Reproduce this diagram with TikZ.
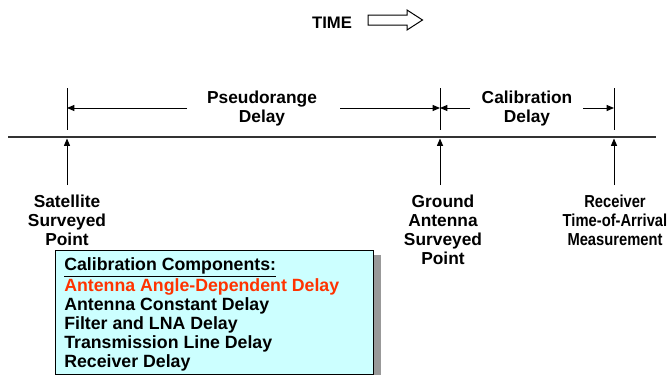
\documentclass[tikz,border=0pt]{standalone}
\usepackage{fontspec}
\setmainfont{Liberation Sans}
\newcommand{\squeeze}[1]{\scalebox{0.85}[1]{#1}}
\usetikzlibrary{arrows.meta}
\definecolor{boxcyan}{RGB}{204,255,255}
\definecolor{angred}{RGB}{255,51,0}
\definecolor{shadowgray}{RGB}{153,153,153}
\begin{document}
\begin{tikzpicture}[x=0.75pt,y=-0.75pt,
  lbl/.style={font=\bfseries\fontsize{13}{14.25}\selectfont, align=center, inner sep=0pt},
  boxtext/.style={font=\bfseries\fontsize{13.3}{14.25}\selectfont, align=left, inner sep=0pt},
  tick/.style={draw=black, line width=0.75pt},
  dim/.style={-{Triangle[length=5.5pt,width=4.5pt]}, line width=0.75pt}]
\useasboundingbox (0,0) rectangle (670,375);
% time arrow
\node [font=\bfseries\fontsize{12.5}{14}\selectfont, anchor=north, inner sep=0pt] (time) at (332,17) {TIME};
\draw [line width=0.75pt] (368,15) -- (407,15) -- (407,10) -- (422.5,20) -- (407,30) -- (407,25) -- (368,25) -- cycle;
% timeline
\coordinate (lineL) at (8,136.5);
\coordinate (lineR) at (656,136.5);
\draw [draw=black!80, line width=1.5pt] (lineL) -- (lineR);
% ticks above line
\coordinate (satTop) at (67,88);   \coordinate (satBot) at (67,130);
\coordinate (gndTop) at (440,88);  \coordinate (gndBot) at (440,130);
\coordinate (rcvTop) at (614,88);  \coordinate (rcvBot) at (614,130);
\draw [tick] (satTop) -- (satBot);
\draw [tick] (gndTop) -- (gndBot);
\draw [tick] (rcvTop) -- (rcvBot);
% dimension arrows
\coordinate (satDim) at (67,108);
\coordinate (gndDim) at (440,108);
\coordinate (rcvDim) at (614,108);
\coordinate (psrL) at (187,108);
\coordinate (psrR) at (340,108);
\coordinate (calL) at (470,108);
\coordinate (calR) at (583,108);
\draw [dim] (psrL) -- (satDim);
\draw [dim] (psrR) -- (gndDim);
\draw [dim] (calL) -- (gndDim);
\draw [dim] (calR) -- (rcvDim);
\node [lbl, anchor=north] (psr) at (262,91) {Pseudorange\\Delay};
\node [lbl, anchor=north] (cal) at (527,91) {Calibration\\Delay};
% up arrows from below
\coordinate (satUp) at (67,185);   \coordinate (satTip) at (67,138.5);
\coordinate (gndUp) at (440,185);  \coordinate (gndTip) at (440,138.5);
\coordinate (rcvUp) at (614,185);  \coordinate (rcvTip) at (614,138.5);
\draw [dim] (satUp) -- (satTip);
\draw [dim] (gndUp) -- (gndTip);
\draw [dim] (rcvUp) -- (rcvTip);
\node [lbl, anchor=north] (sat) at (67,195) {Satellite\\Surveyed\\Point};
\node [lbl, anchor=north] (gnd) at (443,195) {Ground\\Antenna\\Surveyed\\Point};
\node [lbl, anchor=north] (rcv) at (615,195) {\squeeze{Receiver}\\\squeeze{Time-of-Arrival}\\\squeeze{Measurement}};
% components box
\fill [shadowgray] (62,255) rectangle (381,375);
\draw [fill=boxcyan, draw=black, line width=0.75pt] (55,250) rectangle (373,374);
\node [boxtext, anchor=north west] (comp) at (64,257.5) {\underline{Calibration Components:}\\
  \textcolor{angred}{Antenna Angle-Dependent Delay}\\
  Antenna Constant Delay\\
  Filter and LNA Delay\\
  Transmission Line Delay\\
  Receiver Delay};
\end{tikzpicture}
\end{document}
